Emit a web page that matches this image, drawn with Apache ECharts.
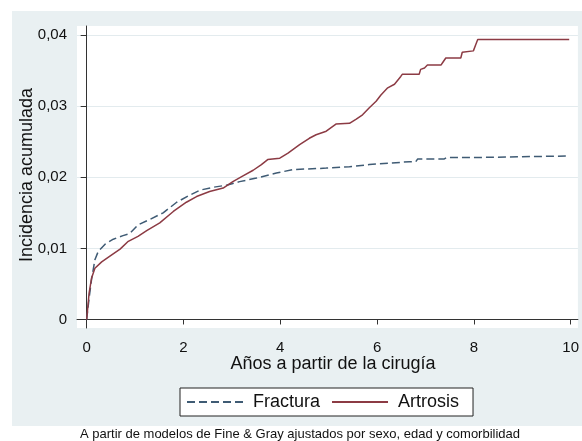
<!DOCTYPE html>
<html>
<head>
<meta charset="utf-8">
<script src="https://cdn.jsdelivr.net/npm/echarts@6/dist/echarts.min.js"></script>
<style>
  html, body { margin: 0; padding: 0; background: #fff; }
  #chart { width: 582px; height: 441px; }
</style>
</head>
<body>
<div id="chart"></div>
<script>
// ticks
const xTicks = [0, 2, 4, 6, 8, 10]
const yTicks = [0, 0.01, 0.02, 0.03, 0.04]

// incidencia acumulada [años, incidencia]
const fractura = [
  [0, 0], [0.05, 0.0030], [0.10, 0.0056], [0.17, 0.0084], [0.24, 0.0096], [0.38, 0.0106],
  [0.55, 0.0113], [0.75, 0.0118], [0.89, 0.0121], [1.06, 0.0133], [1.31, 0.0141],
  [1.58, 0.0150], [1.86, 0.0165], [2.13, 0.0175], [2.34, 0.0182], [2.61, 0.0186],
  [2.89, 0.0189], [3.16, 0.0194], [3.51, 0.0199], [3.92, 0.0206], [4.26, 0.0211],
  [4.95, 0.0213], [5.43, 0.0215], [5.84, 0.0218], [6.25, 0.0220], [6.67, 0.0222],
  [6.80, 0.0222], [6.84, 0.0226], [7.39, 0.0226], [7.44, 0.0228], [8.07, 0.0228],
  [8.10, 0.0230], [9.90, 0.0230]
]
const artrosis = [
  [0, 0], [0.02, 0.0015], [0.05, 0.0037], [0.10, 0.0058], [0.17, 0.0072], [0.31, 0.0081],
  [0.48, 0.0089], [0.69, 0.0099], [0.86, 0.0110], [1.06, 0.0117], [1.24, 0.0125],
  [1.51, 0.0136], [1.79, 0.0152], [2.06, 0.0165], [2.27, 0.0173], [2.54, 0.0180],
  [2.82, 0.0185], [3.02, 0.0194], [3.23, 0.0202], [3.44, 0.0210], [3.61, 0.0218],
  [3.74, 0.0225], [3.99, 0.0227], [4.16, 0.0234], [4.40, 0.0246], [4.60, 0.0255],
  [4.74, 0.0260], [4.95, 0.0265], [5.15, 0.0275], [5.43, 0.0276], [5.57, 0.0282],
  [5.70, 0.0288], [5.84, 0.0298], [5.98, 0.0307], [6.08, 0.0316], [6.22, 0.0326],
  [6.36, 0.0331], [6.49, 0.0342], [6.52, 0.0345], [6.87, 0.0345], [6.90, 0.0352],
  [6.98, 0.0354], [7.04, 0.0358], [7.32, 0.0358], [7.36, 0.0362], [7.42, 0.0368],
  [7.73, 0.0368], [7.76, 0.0376], [7.99, 0.0378], [8.04, 0.0387], [8.08, 0.0394],
  [9.97, 0.0394]
]

const FONT = '"Liberation Sans", Arial, sans-serif'
const chart = echarts.init(document.getElementById('chart'))

chart.setOption({
  backgroundColor: '#fff',
  animation: false,
  graphic: [
    { type: 'rect', z: -100, shape: { x: 12, y: 11, width: 570, height: 415 }, style: { fill: '#e9f0f2' } },
    { type: 'text', x: 333, y: 364, style: { text: 'Años a partir de la cirugía', font: '18px ' + FONT, fill: '#111', align: 'center', verticalAlign: 'middle' } },
    { type: 'text', x: 27, y: 175, rotation: Math.PI / 2, style: { text: 'Incidencia acumulada', font: '18px ' + FONT, fill: '#111', align: 'center', verticalAlign: 'middle' } },
    { type: 'text', x: 300, y: 434, style: { text: 'A partir de modelos de Fine & Gray ajustados por sexo, edad y comorbilidad', font: '13px ' + FONT, fill: '#111', align: 'center', verticalAlign: 'middle' } }
  ],
  grid: {
    left: 77, right: 0, top: 26, bottom: 113,
    show: true, backgroundColor: '#fff', borderWidth: 0
  },
  legend: {
    left: 180, top: 388,
    padding: [5, 14, 5, 6],
    itemWidth: 56, itemHeight: 14, itemGap: 11,
    backgroundColor: '#fff', borderColor: '#222', borderWidth: 1,
    itemStyle: { opacity: 0 },
    textStyle: { fontFamily: FONT, fontSize: 18, color: '#111', padding: [0, 0, 0, 5] },
    data: ['Fractura', 'Artrosis']
  },
  xAxis: {
    type: 'value', min: -0.2, max: 10.15,
    axisLine: { show: true, lineStyle: { color: '#333', width: 1 } },
    axisTick: { show: true, customValues: xTicks, length: 5, lineStyle: { color: '#333' } },
    axisLabel: { customValues: xTicks, fontFamily: FONT, fontSize: 15, color: '#111', margin: 12 },
    splitLine: { show: false }
  },
  yAxis: {
    type: 'value', min: -0.0012, max: 0.0413,
    axisLine: { show: true, lineStyle: { color: '#333', width: 1 } },
    axisTick: { show: true, customValues: yTicks, length: 6, lineStyle: { color: '#333' } },
    axisLabel: {
      customValues: yTicks, fontFamily: FONT, fontSize: 15, color: '#111', margin: 10,
      formatter: v => v === 0 ? '0' : v.toFixed(2).replace('.', ',')
    },
    splitLine: { show: true, lineStyle: { color: '#e3ebee', width: 1 } }
  },
  series: [
    {
      name: 'Fractura', type: 'line', data: fractura, symbol: 'none',
      lineStyle: { color: '#3f5b74', width: 1.5, type: [8, 4] },
      itemStyle: { color: '#3f5b74' }
    },
    {
      name: 'Artrosis', type: 'line', data: artrosis, symbol: 'none',
      lineStyle: { color: '#8c3b44', width: 1.5 },
      itemStyle: { color: '#8c3b44' }
    }
  ]
})
</script>
</body>
</html>
